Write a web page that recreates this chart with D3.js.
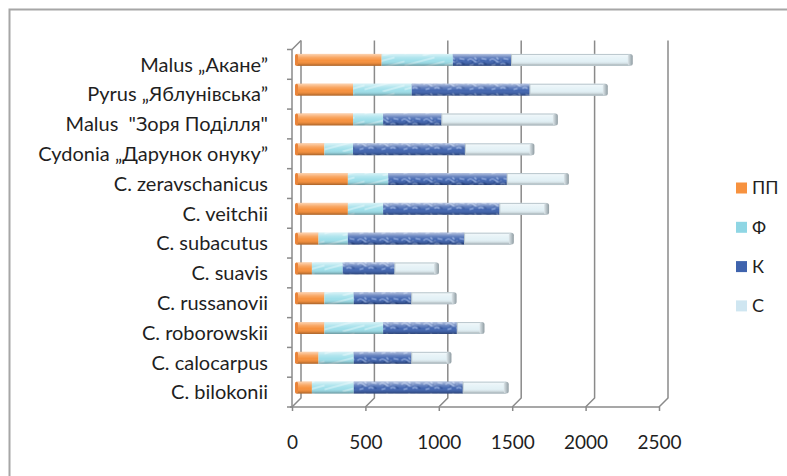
<!DOCTYPE html>
<html><head><meta charset="utf-8">
<script src="https://cdn.jsdelivr.net/npm/d3@7"></script>
<style>
html,body{margin:0;padding:0;background:#fff;}
text{font-family:Lato,"Noto Sans",sans-serif;fill:#1f1f1f;}
</style></head>
<body>
<svg id="chart" width="787" height="476"></svg>
<script>
const categories = ["Malus „Акане”", "Pyrus „Яблунівська”", "Malus  \"Зоря Поділля\"", "Cydonia „Дарунок онуку”",
  "C. zeravschanicus", "C. veitchii", "C. subacutus", "C. suavis", "C. russanovii", "C. roborowskii",
  "C. calocarpus", "C. bilokonii"];
const seriesNames = ["ПП", "Ф", "К", "С"];
const valuesPP = [580, 385, 385, 190, 350, 350, 150, 105, 190, 190, 150, 105];
const valuesF  = [485, 400, 205, 195, 275, 240, 200, 210, 200, 400, 240, 285];
const valuesK  = [400, 805, 400, 765, 810, 795, 795, 355, 395, 505, 395, 745];
const valuesS  = [805, 510, 770, 450, 400, 315, 315, 280, 285, 165, 250, 290];
const xTicks = [0, 500, 1000, 1500, 2000, 2500];

const svg = d3.select("#chart");
const defs = svg.append("defs");

// border frame
svg.append("path").attr("d", "M9.5,480V9.5H790").attr("fill", "none").attr("stroke", "#a6a6a6").attr("stroke-width", 2);

const depth = 9;
const x = d3.scaleLinear().domain([0, 2500]).range([292, 659]);
const y = d3.scaleBand().domain(categories).range([49.5, 407]).paddingInner(0.6).paddingOuter(0.3);
const step = y.step();

// shading gradient overlay
const sh = defs.append("linearGradient").attr("id", "shade").attr("x1", 0).attr("y1", 0).attr("x2", 0).attr("y2", 1);
[[0, "#fff", 0.6], [0.3, "#fff", 0.2], [0.55, "#fff", 0], [0.8, "#000", 0.08], [1, "#000", 0.32]]
  .forEach(([o, c, a]) => sh.append("stop").attr("offset", o).attr("stop-color", c).attr("stop-opacity", a));

// pattern for Ф
const pF = defs.append("pattern").attr("id", "patF").attr("patternUnits", "userSpaceOnUse").attr("width", 40).attr("height", 12);
pF.append("rect").attr("width", 40).attr("height", 12).attr("fill", "#9fdfea");
pF.append("path").attr("d", "M0,10 L30,2 M18,12 L40,6").attr("stroke", "#dcf5f9").attr("stroke-width", 1.2).attr("fill", "none");
// pattern for К
const pK = defs.append("pattern").attr("id", "patK").attr("patternUnits", "userSpaceOnUse").attr("width", 22).attr("height", 12);
pK.append("rect").attr("width", 22).attr("height", 12).attr("fill", "#4467b0");
pK.append("path").attr("d", "M1,5 q3,-3 6,0 t6,0 M12,9 q2,-2 5,0 M3,10 l4,-1 M15,3 l5,1 M8,2 l2,2")
  .attr("stroke", "#a3bbe8").attr("stroke-width", 1.1).attr("fill", "none");
pK.append("path").attr("d", "M17,7 l3,2 M5,7 l2,-1 M10,6 l3,0").attr("stroke", "#2b4b91").attr("stroke-width", 1.2).attr("fill", "none");

const fills = ["#f7923f", "url(#patF)", "url(#patK)", "#e3f1f6"];
const legendFills = ["#f7923f", "#8fd6e4", "#3f63ad", "#cfe6f1"];

// back wall gridlines + floor slants
const grid = svg.append("g");
xTicks.forEach(v => {
  grid.append("path")
    .attr("d", `M${x(v) + depth},40.5V398L${x(v)},407`)
    .attr("fill", "none").attr("stroke", "#8a8a8a").attr("stroke-width", 1.5);
});
// left wall front edge
grid.append("path").attr("d", `M292,407V49.5L${292 + depth},40.5`).attr("fill", "none").attr("stroke", "#8a8a8a").attr("stroke-width", 1.5);
// left ticks
d3.range(categories.length + 1).forEach(i => {
  const yy = y.range()[0] + i * step;
  grid.append("line").attr("x1", 287).attr("x2", 292).attr("y1", yy).attr("y2", yy)
    .attr("stroke", "#8a8a8a").attr("stroke-width", 1.5);
});

// x axis
const xAxis = d3.axisBottom(x).tickValues(xTicks).tickSize(4).tickPadding(25).tickFormat(d3.format("d"));
const gx = svg.append("g").attr("transform", "translate(0,407)").call(xAxis);
gx.select(".domain").attr("stroke", "#8a8a8a").attr("stroke-width", 1.5).attr("d", "M290,0H659");
gx.selectAll(".tick line").attr("stroke", "#8a8a8a").attr("stroke-width", 1.5);
gx.selectAll(".tick text").attr("font-size", 19).attr("fill", "#1f1f1f").style("font-family", "Lato");

// category labels
svg.append("g").selectAll("text").data(categories).join("text")
  .attr("x", 268).attr("y", d => y(d) + y.bandwidth() / 2).attr("dy", "0.36em")
  .attr("text-anchor", "end").attr("font-size", 20).style("white-space", "pre")
  .text(d => d);

// stacked data
const rows = categories.map((c, i) => ({ cat: c, "ПП": valuesPP[i], "Ф": valuesF[i], "К": valuesK[i], "С": valuesS[i] }));
const stacked = d3.stack().keys(seriesNames)(rows);

const off = depth / 2;
const bw = y.bandwidth();
const bars = svg.append("g").attr("transform", `translate(${off},${-off})`);
stacked.forEach((layer, si) => {
  const g = bars.append("g");
  g.selectAll("rect.seg").data(layer).join("rect").attr("class", "seg")
    .attr("x", d => x(d[0])).attr("width", d => x(d[1]) - x(d[0]))
    .attr("y", d => y(d.data.cat)).attr("height", bw)
    .attr("fill", fills[si]);
  g.selectAll("rect.shade").data(layer).join("rect").attr("class", "shade")
    .attr("x", d => x(d[0])).attr("width", d => x(d[1]) - x(d[0]))
    .attr("y", d => y(d.data.cat)).attr("height", bw)
    .attr("fill", "url(#shade)");
});
// outline of last segment and end caps
const last = stacked[stacked.length - 1];
bars.append("g").selectAll("rect").data(last).join("rect")
  .attr("x", d => x(d[0])).attr("width", d => x(d[1]) - x(d[0]))
  .attr("y", d => y(d.data.cat) + 0.5).attr("height", bw - 1)
  .attr("fill", "none").attr("stroke", "#b9c6cc").attr("stroke-width", 1);
const capG = defs.append("linearGradient").attr("id", "capG").attr("x1", 0).attr("y1", 0).attr("x2", 1).attr("y2", 0);
capG.append("stop").attr("offset", 0).attr("stop-color", "#dfe8ec");
capG.append("stop").attr("offset", 1).attr("stop-color", "#8e9ba1");
bars.append("g").selectAll("rect").data(last).join("rect")
  .attr("x", d => x(d[1]) - 2).attr("width", 5)
  .attr("y", d => y(d.data.cat)).attr("height", bw)
  .attr("rx", 2.5).attr("fill", "url(#capG)");
// left start edge
bars.append("g").selectAll("rect").data(stacked[0]).join("rect")
  .attr("x", d => x(0) - 1.5).attr("width", 3)
  .attr("y", d => y(d.data.cat)).attr("height", bw)
  .attr("rx", 1.5).attr("fill", "#e9843a");

// legend
const leg = svg.append("g");
seriesNames.forEach((s, i) => {
  const yy = 188 + i * 39.3;
  leg.append("rect").attr("x", 736).attr("y", yy - 5.5).attr("width", 11).attr("height", 11).attr("fill", legendFills[i]);
  leg.append("text").attr("x", 752).attr("y", yy).attr("dy", "0.36em").attr("font-size", 18).text(s);
});
</script>
</body></html>
